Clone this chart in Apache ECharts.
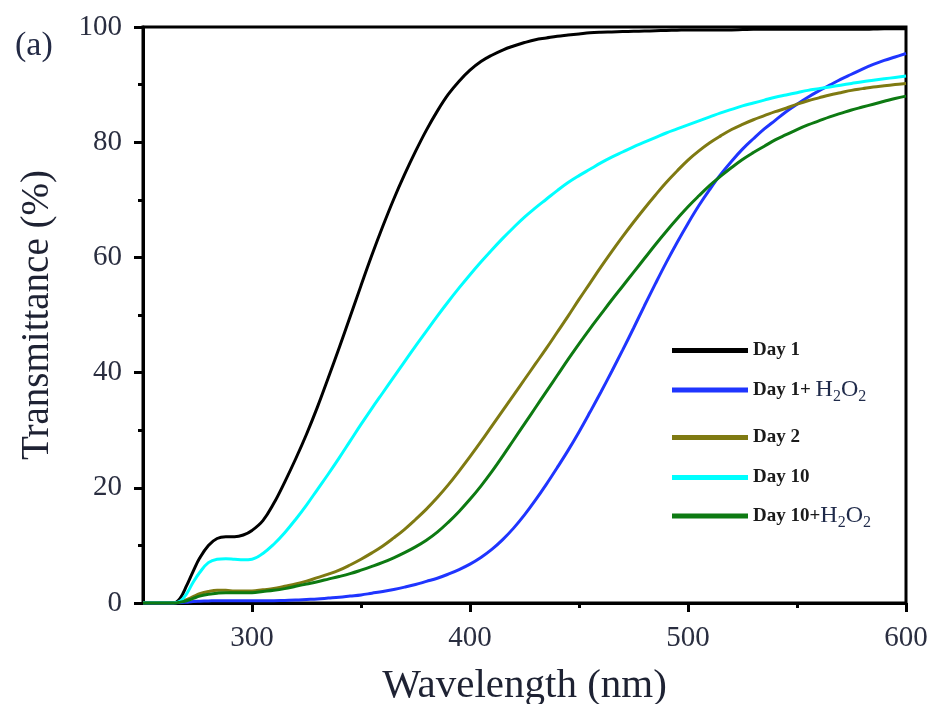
<!DOCTYPE html>
<html>
<head>
<meta charset="utf-8">
<script src="https://cdn.jsdelivr.net/npm/echarts@6/dist/echarts.min.js"></script>
<style>
html,body{margin:0;padding:0;background:#fff;}
#chart{width:937px;height:704px;}
</style>
</head>
<body>
<div id="chart"></div>
<script>
const wavelength = [250,260,264,267,270,273,276,280,284,288,292,296,300,
  305,310,315,320,325,330,335,340,345,350,355,360,365,370,375,380,385,390,395,400,405,410,
  415,420,425,430,435,440,445,450,455,460,465,470,475,480,485,490,495,500,505,510,
  515,520,525,530,535,540,545,550,555,560,565,570,575,580,585,590,595,600];
const day1 = [0,0,0,0.8,3,5.5,7.8,10,11.2,11.5,11.5,11.8,12.6,
  14.3,17.3,21,25,29.3,34,39.1,44.3,49.7,55.1,60.4,65.4,70.1,74.4,78.4,82.1,85.4,88.3,90.6,92.5,94,95.1,
  96,96.7,97.3,97.8,98.1,98.4,98.6,98.8,99,99.1,99.15,99.2,99.25,99.3,99.35,99.4,99.45,99.5,99.5,99.5,
  99.5,99.5,99.55,99.6,99.6,99.6,99.6,99.6,99.6,99.6,99.6,99.6,99.6,99.6,99.65,99.7,99.7,99.7];
const day1H2O2 = [0,0,0,0.05,0.15,0.25,0.3,0.35,0.4,0.4,0.4,0.4,0.4,
  0.4,0.4,0.45,0.5,0.6,0.7,0.85,1,1.2,1.4,1.7,2,2.35,2.75,3.2,3.75,4.3,5,5.8,6.75,7.9,9.3,
  11,13,15.3,17.85,20.6,23.5,26.5,29.7,33.1,36.6,40.2,43.9,47.7,51.6,55.4,59.1,62.6,65.9,69,71.8,
  74.4,76.7,78.8,80.6,82.3,83.8,85.3,86.6,87.8,88.9,89.9,90.9,91.8,92.7,93.5,94.2,94.8,95.4];
const day2 = [0,0,0,0.2,0.6,1.1,1.6,2,2.2,2.2,2.1,2.1,2.1,
  2.3,2.5,2.9,3.3,3.8,4.4,5,5.7,6.6,7.6,8.7,9.9,11.3,12.8,14.5,16.3,18.3,20.5,22.9,25.4,28,30.7,
  33.4,36.1,38.8,41.5,44.2,47,49.8,52.7,55.5,58.3,61,63.6,66.1,68.5,70.8,73,75,76.9,78.5,79.9,
  81.1,82.2,83.1,83.9,84.6,85.3,85.9,86.6,87.2,87.7,88.2,88.6,89,89.3,89.6,89.8,90,90.2];
const day10 = [0,0,0,0.3,1.6,3.6,5.3,7,7.6,7.7,7.6,7.5,7.6,
  8.6,10.2,12.2,14.5,17,19.7,22.4,25.2,28.1,31,33.8,36.5,39.2,41.9,44.6,47.2,49.8,52.3,54.7,57,59.2,61.3,
  63.3,65.2,67,68.6,70.1,71.6,73,74.2,75.3,76.4,77.4,78.3,79.2,80,80.8,81.6,82.3,83,83.7,84.4,
  85.1,85.7,86.3,86.8,87.3,87.8,88.2,88.6,89,89.3,89.6,89.9,90.2,90.5,90.75,91,91.25,91.5];
const day10H2O2 = [0,0,0,0.15,0.4,0.8,1.2,1.5,1.7,1.8,1.8,1.8,1.8,
  2,2.2,2.5,2.9,3.3,3.7,4.15,4.6,5.1,5.7,6.35,7.05,7.85,8.75,9.75,10.9,12.3,14,15.9,18,20.3,22.8,
  25.5,28.3,31.1,33.9,36.7,39.5,42.3,45,47.6,50.1,52.6,55,57.4,59.8,62.2,64.5,66.7,68.8,70.7,72.5,
  74.1,75.6,77,78.2,79.3,80.4,81.3,82.2,83,83.7,84.4,85,85.6,86.1,86.6,87.1,87.6,88];

const seriesNames = ['Day 1', 'Day 1+ H2O2', 'Day 2', 'Day 10', 'Day 10+H2O2'];
const seriesValues = [day1, day1H2O2, day2, day10, day10H2O2];
const seriesColors = ['#000000', '#1f35ff', '#7f7a12', '#00ffff', '#0d7a12'];
const xMajorTicks = [300, 400, 500, 600];
const xMinorTicks = [350, 450, 550];

const FONT = "'Liberation Serif', 'Times New Roman', serif";
const legendLabels = {
  'Day 1': '{b|Day 1}',
  'Day 1+ H2O2': '{b|Day 1+ }{h|H}{s|2}{h|O}{s|2}',
  'Day 2': '{b|Day 2}',
  'Day 10': '{b|Day 10}',
  'Day 10+H2O2': '{b|Day 10+}{h|H}{s|2}{h|O}{s|2}'
};
const legendTops = [341, 378, 428, 468, 504];

const chart = echarts.init(document.getElementById('chart'), null, {renderer: 'canvas'});

const legends = seriesNames.map((n, i) => ({
  data: [n],
  left: 672,
  top: legendTops[i],
  padding: 0,
  itemWidth: 76,
  itemHeight: 5,
  icon: 'rect',
  selectedMode: false,
  formatter: name => legendLabels[name],
  textStyle: {
    fontFamily: FONT,
    color: '#1a1a1a',
    rich: {
      b: {fontFamily: FONT, fontWeight: 'bold', fontSize: 19, color: '#1a1a1a'},
      h: {fontFamily: FONT, fontSize: 24, color: '#1f2a4a'},
      s: {fontFamily: FONT, fontSize: 16, color: '#1f2a4a', padding: [14, 0, 0, 0]}
    }
  }
}));

const option = {
  animation: false,
  backgroundColor: '#ffffff',
  grid: {left: 143, right: 31, top: 27, bottom: 101, outerBoundsMode: 'none', containLabel: false,
    show: true, borderColor: '#000', borderWidth: 3, backgroundColor: 'transparent'},
  title: {
    text: '(a)', left: 10, top: 24,
    textStyle: {fontFamily: FONT, fontSize: 34, fontWeight: 'normal', color: '#232a45'}
  },
  legend: legends,
  xAxis: [{
    type: 'value', min: 250, max: 600, interval: 50,
    name: 'Wavelength (nm)', nameLocation: 'middle', nameGap: 63,
    nameTextStyle: {fontFamily: FONT, fontSize: 41, color: '#1e2233'},
    axisLine: {show: true, lineStyle: {color: '#000', width: 3}},
    axisTick: {show: true, inside: false, length: 9, lineStyle: {color: '#000', width: 3}, customValues: xMajorTicks},
    axisLabel: {show: true, margin: 21, fontFamily: FONT, fontSize: 29, color: '#2a2e40', customValues: xMajorTicks},
    splitLine: {show: false}
  }, {
    type: 'value', min: 250, max: 600, interval: 50, position: 'bottom',
    axisLine: {show: false},
    axisTick: {show: true, inside: false, length: 5, lineStyle: {color: '#000', width: 3}, customValues: xMinorTicks},
    axisLabel: {show: false},
    splitLine: {show: false}
  }],
  yAxis: {
    type: 'value', min: 0, max: 100, interval: 20,
    name: 'Transmittance (%)', nameLocation: 'middle', nameGap: 86,
    nameTextStyle: {fontFamily: FONT, fontSize: 39, color: '#1e2233'},
    axisLine: {show: true, lineStyle: {color: '#000', width: 3}},
    axisTick: {show: true, inside: false, length: 9, lineStyle: {color: '#000', width: 3}},
    minorTick: {show: true, splitNumber: 2, length: 5, lineStyle: {color: '#000', width: 3}},
    axisLabel: {margin: 21, fontFamily: FONT, fontSize: 29, color: '#2a2e40'},
    splitLine: {show: false},
    minorSplitLine: {show: false}
  },
  series: seriesNames.map((n, i) => ({
    name: n,
    type: 'line',
    xAxisIndex: 0,
    smooth: 0.4,
    showSymbol: false,
    symbol: 'none',
    color: seriesColors[i],
    lineStyle: {color: seriesColors[i], width: 3},
    data: wavelength.map((w, j) => [w, seriesValues[i][j]])
  }))
};
chart.setOption(option);
</script>
</body>
</html>
